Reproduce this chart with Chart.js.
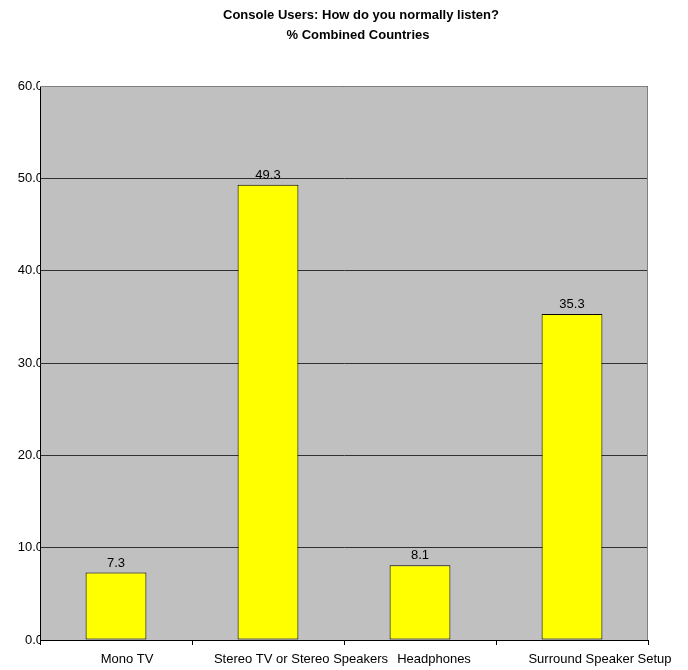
<!DOCTYPE html>
<html>
<head>
<meta charset="utf-8">
<script src="https://cdn.jsdelivr.net/npm/chart.js@4/dist/chart.umd.min.js"></script>
<style>
  html, body { margin: 0; padding: 0; background: #fff; }
  #wrap { width: 688px; height: 670px; }
</style>
</head>
<body>
<div id="wrap"><canvas id="c" width="688" height="670"></canvas></div>
<script>
const categories = ['Mono TV', 'Stereo TV or Stereo Speakers', 'Headphones', 'Surround Speaker Setup'];
const percentages = [7.3, 49.3, 8.1, 35.3];
const titleLines = ['Console Users: How do you normally listen?', '% Combined Countries'];

const FONT = '"Liberation Sans", Arial, sans-serif';

// Category captions sit a little right of each bar's centre
const captionShift = [11, 33, 14, 28];

// Grey plot background plus grey top/right frame
const plotFrame = {
  id: 'plotFrame',
  beforeDraw(chart) {
    const { ctx, chartArea: a } = chart;
    ctx.save();
    ctx.fillStyle = '#C0C0C0';
    ctx.fillRect(a.left, a.top, a.right - a.left, a.bottom - a.top);
    ctx.restore();
  },
  afterDraw(chart) {
    const { ctx, chartArea: a } = chart;
    ctx.save();
    ctx.strokeStyle = '#808080';
    ctx.lineWidth = 1;
    ctx.beginPath();
    ctx.moveTo(a.left, a.top + 0.5);
    ctx.lineTo(a.right - 0.5, a.top + 0.5);
    ctx.lineTo(a.right - 0.5, a.bottom);
    ctx.stroke();
    ctx.restore();
  }
};

// Two-line bold heading
const heading = {
  id: 'heading',
  afterDraw(chart) {
    const { ctx } = chart;
    ctx.save();
    ctx.fillStyle = '#000';
    ctx.textAlign = 'center';
    ctx.textBaseline = 'middle';
    ctx.font = 'bold 13px ' + FONT;
    ctx.fillText(titleLines[0], 361, 15);
    ctx.fillText(titleLines[1], 358, 35);
    ctx.restore();
  }
};

// Category captions under the x axis
const captions = {
  id: 'captions',
  afterDraw(chart) {
    const { ctx } = chart;
    const xs = chart.scales.x;
    ctx.save();
    ctx.fillStyle = '#000';
    ctx.font = '13px ' + FONT;
    ctx.textAlign = 'center';
    ctx.textBaseline = 'middle';
    categories.forEach((c, i) => {
      ctx.fillText(c, xs.getPixelForValue(i) + captionShift[i], xs.bottom - 11);
    });
    ctx.restore();
  }
};

// Value printed above each bar
const valueLabels = {
  id: 'valueLabels',
  afterDatasetsDraw(chart) {
    const { ctx } = chart;
    const meta = chart.getDatasetMeta(0);
    ctx.save();
    ctx.fillStyle = '#000';
    ctx.font = '13px ' + FONT;
    ctx.textAlign = 'center';
    ctx.textBaseline = 'bottom';
    meta.data.forEach((bar, i) => {
      ctx.fillText(percentages[i].toFixed(1), bar.x, bar.y - 3);
    });
    ctx.restore();
  }
};

new Chart(document.getElementById('c'), {
  type: 'bar',
  data: {
    labels: categories,
    datasets: [{
      data: percentages,
      backgroundColor: '#FFFF00',
      borderColor: '#000000',
      borderWidth: 1,
      borderSkipped: false,
      categoryPercentage: 0.4,
      barPercentage: 1.0
    }]
  },
  options: {
    responsive: false,
    animation: false,
    layout: { padding: { top: 86, right: 40, left: 0, bottom: 0 } },
    plugins: {
      legend: { display: false },
      title: { display: false },
      tooltip: { enabled: false }
    },
    scales: {
      x: {
        type: 'category',
        offset: true,
        afterFit(s) { s.height = 30; },
        grid: {
          offset: true,
          drawOnChartArea: false,
          drawTicks: true,
          tickLength: 5,
          color: '#000'
        },
        border: { color: '#000', width: 1 },
        ticks: { display: false }
      },
      y: {
        min: 0,
        max: 60,
        afterFit(s) { s.width = 40; },
        grid: {
          color: '#303030',
          lineWidth: 1,
          drawTicks: false
        },
        border: { color: '#000', width: 1 },
        ticks: {
          stepSize: 10,
          padding: -3,
          color: '#000',
          font: { family: FONT, size: 13 },
          callback: v => Number(v).toFixed(1)
        }
      }
    }
  },
  plugins: [plotFrame, heading, captions, valueLabels]
});
</script>
</body>
</html>
